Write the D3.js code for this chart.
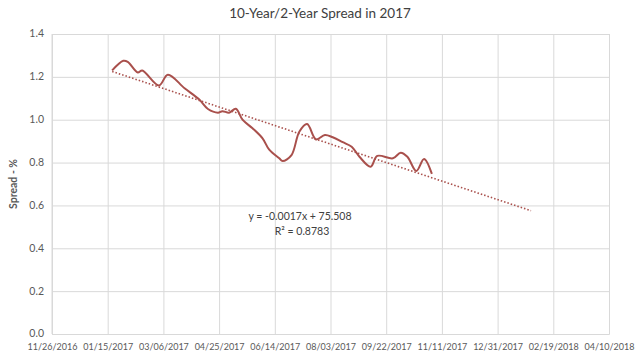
<!DOCTYPE html>
<html>
<head>
<meta charset="utf-8">
<script src="https://cdn.jsdelivr.net/npm/d3@7"></script>
<style>
  html, body { margin: 0; padding: 0; background: #fff; }
  svg { display: block; font-family: Lato, "Open Sans", sans-serif; }
</style>
</head>
<body>
<svg id="chart" width="640" height="358"></svg>
<script>
// ---- data ----
const title = "10-Year/2-Year Spread in 2017";
const yAxisTitle = "Spread - %";
const dates = [
  "2017-01-19","2017-01-29","2017-02-02","2017-02-11","2017-02-15","2017-03-02",
  "2017-03-10","2017-03-25","2017-04-07","2017-04-15","2017-04-24","2017-04-28",
  "2017-05-04","2017-05-10","2017-05-16","2017-05-25","2017-06-03","2017-06-09",
  "2017-06-18","2017-06-21","2017-06-29","2017-07-06","2017-07-13","2017-07-21",
  "2017-07-29","2017-08-05","2017-08-14","2017-08-22","2017-08-29","2017-09-08",
  "2017-09-14","2017-09-28","2017-10-05","2017-10-11","2017-10-19","2017-10-26",
  "2017-11-02"
];
const spread = [
  1.23, 1.275, 1.27, 1.22, 1.23, 1.16,
  1.21, 1.147, 1.095, 1.05, 1.033, 1.04,
  1.033, 1.051, 1.0, 0.96, 0.913, 0.86,
  0.82, 0.807, 0.835, 0.944, 0.98, 0.908,
  0.929, 0.918, 0.895, 0.874, 0.827, 0.781,
  0.831, 0.82, 0.846, 0.827, 0.761, 0.817,
  0.747
];
const xTickLabels = ["11/26/2016","01/15/2017","03/06/2017","04/25/2017","06/14/2017",
  "08/03/2017","09/22/2017","11/11/2017","12/31/2017","02/19/2018","04/10/2018"];
const yTicks = [0, 0.2, 0.4, 0.6, 0.8, 1.0, 1.2, 1.4];
const forecastDays = 89;
const equationLines = ["y = -0.0017x + 75.508", "R\u00B2 = 0.8783"];

// ---- layout ----
const W = 640, H = 358;
const m = { left: 52, right: 31, top: 34, bottom: 24 };
const svg = d3.select("#chart");

const parseMDY = d3.utcParse("%m/%d/%Y");
const parseISO = d3.utcParse("%Y-%m-%d");
const xTickDates = xTickLabels.map(parseMDY);
const data = dates.map((d, i) => ({ date: parseISO(d), v: spread[i] }));

const x = d3.scaleUtc()
  .domain([xTickDates[0], xTickDates[xTickDates.length - 1]])
  .range([m.left, W - m.right]);
const y = d3.scaleLinear().domain([0, 1.4]).range([H - m.bottom, m.top]);

const gridColor = "#d9d9d9";
const textColor = "#595959";
const lineColor = "#a9504c";

// title
svg.append("text")
  .attr("x", 320).attr("y", 18)
  .attr("text-anchor", "middle")
  .attr("font-size", 13.5).attr("fill", "#404040")
  .text(title);

// horizontal gridlines + y axis
const yAxis = d3.axisLeft(y).tickValues(yTicks).tickFormat(d3.format(".1f"))
  .tickSize(-(W - m.left - m.right)).tickPadding(8);
const gy = svg.append("g").attr("transform", `translate(${m.left},0)`).call(yAxis);
gy.select(".domain").remove();
gy.selectAll(".tick line").attr("stroke", gridColor);
gy.selectAll(".tick text").attr("fill", textColor).attr("font-size", 10.5)
  .attr("font-family", "Lato, sans-serif")
  .attr("dy", "0.28em");

// vertical gridlines + x axis
const xAxis = d3.axisBottom(x).tickValues(xTickDates).tickFormat(d3.utcFormat("%m/%d/%Y"))
  .tickSize(-(H - m.top - m.bottom)).tickPadding(10);
const gx = svg.append("g").attr("transform", `translate(0,${H - m.bottom})`).call(xAxis);
gx.select(".domain").attr("stroke", gridColor);
gx.selectAll(".tick line").attr("stroke", gridColor);
gx.selectAll(".tick text").attr("fill", textColor).attr("font-size", 9)
  .attr("font-family", "Lato, sans-serif");

// left axis line
svg.append("line")
  .attr("x1", m.left).attr("x2", m.left)
  .attr("y1", m.top).attr("y2", H - m.bottom)
  .attr("stroke", gridColor);

// y axis title
svg.append("text")
  .attr("transform", `translate(17,${(m.top + H - m.bottom) / 2}) rotate(-90)`)
  .attr("text-anchor", "middle")
  .attr("font-size", 10.5).attr("font-weight", "bold").attr("fill", textColor)
  .text(yAxisTitle);

// linear trendline (least squares on the series, forecast forward)
const DAY = 86400000;
const xs = data.map(d => d.date.getTime() / DAY);
const n = xs.length;
const mx = d3.mean(xs), my = d3.mean(spread);
let sxy = 0, sxx = 0;
for (let i = 0; i < n; i++) { sxy += (xs[i] - mx) * (spread[i] - my); sxx += (xs[i] - mx) ** 2; }
const slope = sxy / sxx, intercept = my - slope * mx;
const t0 = xs[0], t1 = xs[n - 1] + forecastDays;
const trend = [t0, t1].map(t => ({ date: new Date(t * DAY), v: intercept + slope * t }));

svg.append("path")
  .datum(trend)
  .attr("fill", "none")
  .attr("stroke", lineColor)
  .attr("stroke-width", 1.6)
  .attr("stroke-dasharray", "1.5 2")
  .attr("d", d3.line().x(d => x(d.date)).y(d => y(d.v)));

// series line (smoothed)
svg.append("path")
  .datum(data)
  .attr("fill", "none")
  .attr("stroke", lineColor)
  .attr("stroke-width", 2)
  .attr("stroke-linejoin", "round")
  .attr("d", d3.line().curve(d3.curveCatmullRom.alpha(0.5)).x(d => x(d.date)).y(d => y(d.v)));

// trendline equation
const eq = svg.append("text").attr("text-anchor", "middle")
  .attr("font-size", 10.5).attr("fill", "#404040");
eq.append("tspan").attr("x", 300).attr("y", 220).text(equationLines[0]);
eq.append("tspan").attr("x", 302).attr("y", 235).text(equationLines[1]);
</script>
</body>
</html>
